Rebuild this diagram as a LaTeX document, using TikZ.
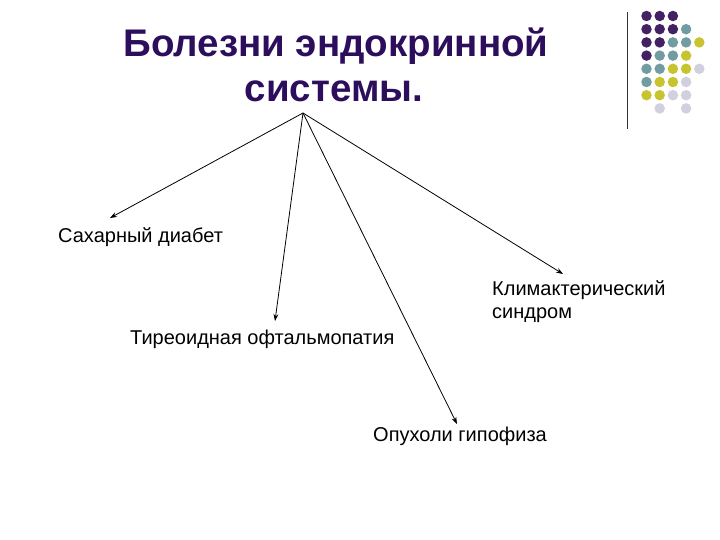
\documentclass[tikz,border=0pt]{standalone}
\usepackage{fontspec}
\setmainfont{Liberation Sans}
\usetikzlibrary{arrows.meta}
\definecolor{titlecol}{RGB}{44,14,92}
\definecolor{dpurple}{RGB}{66,34,100}
\definecolor{dteal}{RGB}{112,156,162}
\definecolor{dyellow}{RGB}{200,196,48}
\definecolor{dgray}{RGB}{208,208,222}
\tikzset{
  title/.style={font=\bfseries\fontsize{38.5}{45}\selectfont, text=titlecol, align=center, inner sep=0pt, anchor=base},
  label/.style={font=\fontsize{20}{23}\selectfont, inner sep=0pt, anchor=base west, align=left},
  conn/.style={-{Stealth[length=7pt,width=5pt]}, line width=0.8pt},
  dot/.style={circle, inner sep=0pt, minimum size=10.5pt},
}
\begin{document}
\begin{tikzpicture}[x=1pt,y=-1pt]
\useasboundingbox (0,0) rectangle (720,540);
\fill[white] (0,0) rectangle (720,540);
% title
\node[title] (t1) at (336,57) {Болезни эндокринной};
\node[title] (t2) at (334,102) {системы.};
% decorative line and dots
\draw[line width=0.8pt, black!80] (627,12) -- (627,129);
\foreach \i/\r/\col in {
  0/0/dpurple,1/0/dpurple,2/0/dpurple,
  0/1/dpurple,1/1/dpurple,2/1/dpurple,3/1/dteal,
  0/2/dpurple,1/2/dpurple,2/2/dteal,3/2/dteal,4/2/dyellow,
  0/3/dpurple,1/3/dteal,2/3/dteal,3/3/dyellow,
  0/4/dteal,1/4/dteal,2/4/dyellow,3/4/dyellow,4/4/dgray,
  0/5/dteal,1/5/dyellow,2/5/dyellow,3/5/dgray,
  0/6/dyellow,1/6/dyellow,2/6/dgray,3/6/dgray,
  1/7/dgray,3/7/dgray}{
  \node[dot, fill=\col] (d\r-\i) at ({646.5+13.2*\i},{16+13.2*\r}) {};
}
% labels
\node[label] (sd) at (58,242) {Сахарный диабет};
\node[label] (to) at (130,344) {Тиреоидная офтальмопатия};
\node[label] (ks) at (492,318) {Климактерический\\синдром};
\node[label] (og) at (373,441) {Опухоли гипофиза};
% connector points
\coordinate (apex) at (303,113);
\coordinate (e1) at (110,218);
\coordinate (e2) at (275,321);
\coordinate (e3) at (563,274);
\coordinate (e4) at (457,424);
\draw[conn] (apex) -- (e1);
\draw[conn] (apex) -- (e2);
\draw[conn] (apex) -- (e3);
\draw[conn] (apex) -- (e4);
\end{tikzpicture}
\end{document}
